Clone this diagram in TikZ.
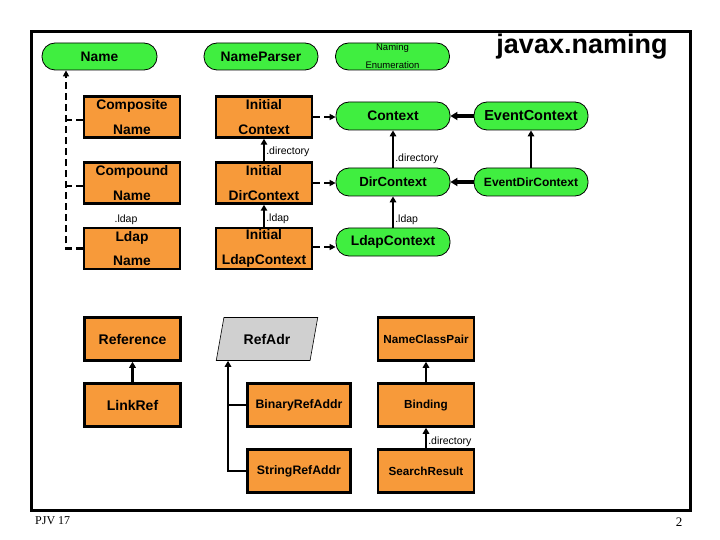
\documentclass[tikz,border=0pt]{standalone}
\usepackage{fontspec}
\setmainfont{Liberation Sans}
\newfontfamily\serifF{Liberation Serif}
\usetikzlibrary{shapes.geometric,arrows.meta}
\definecolor{gr}{RGB}{64,238,64}
\definecolor{orng}{RGB}{247,154,58}
\definecolor{gry}{RGB}{208,208,208}
\begin{document}
\begin{tikzpicture}[x=1pt,y=-1pt,
 iface/.style={draw=black, line width=0.8pt, fill=gr, rounded corners=13pt, minimum width=114pt, minimum height=28pt, inner sep=0pt, align=center, font=\bfseries\fontsize{13.8}{15}\selectfont},
 cls/.style={draw=black, line width=2.5pt, fill=orng, minimum width=96pt, minimum height=41pt, inner sep=0pt, align=center, font=\bfseries\fontsize{13.8}{24.5}\selectfont},
 cls2/.style={cls, minimum height=43pt, font=\bfseries\fontsize{11.7}{14}\selectfont},
 dsh/.style={line width=2.4pt, dash pattern=on 7pt off 4pt},
 tipd/.style={-{Triangle[length=6pt,width=6pt]}},
 sarr/.style={line width=2.6pt, -{Triangle[length=6pt,width=6.5pt]}},
 tarr/.style={line width=3.4pt, -{Triangle[length=7pt,width=8pt]}},
 lbl/.style={font=\fontsize{10.5}{12}\selectfont, inner sep=1pt}
]
\fill[white] (0,0) rectangle (720,540);
\useasboundingbox (0,0) rectangle (720,540);
\draw[line width=3pt] (31,32) rectangle (690,510);

% title
\node[font=\bfseries\fontsize{27}{30}\selectfont, inner sep=0pt] (title) at (582,47) {javax.naming};

% interfaces (green)
\node[iface, minimum width=115pt, minimum height=27pt] (Name) at (99.5,56.5) {Name};
\node[iface, minimum height=27pt] (NameParser) at (261,56.5) {NameParser};
\node[iface, minimum height=27pt, font=\fontsize{9.5}{18}\selectfont] (NamingEnum) at (392.5,56.5) {Naming\\Enumeration};
\node[iface] (Context) at (393,116) {Context};
\node[iface, font=\bfseries\fontsize{14.5}{16}\selectfont] (EventContext) at (531,116) {EventContext};
\node[iface, font=\bfseries\fontsize{13.2}{15}\selectfont] (DirContext) at (393,182) {DirContext};
\node[iface, font=\bfseries\fontsize{12}{14}\selectfont] (EventDirContext) at (531,182) {EventDirContext};
\node[iface] (LdapContext) at (393,242) {LdapContext};

% classes (orange)
\node[cls] (CompositeName) at (132,117) {Composite\\Name};
\node[cls] (InitialContext) at (264,117) {Initial\\Context};
\node[cls] (CompoundName) at (132,183) {Compound\\Name};
\node[cls] (InitialDirContext) at (264,183) {Initial\\DirContext};
\node[cls] (LdapName) at (132,248.5) {Ldap\\Name};
\node[cls] (InitialLdapContext) at (264,248.5) {Initial\\LdapContext};

\node[cls2, font=\bfseries\fontsize{14}{16}\selectfont] (Reference) at (132.5,339) {Reference};
\node[cls2, font=\bfseries\fontsize{14}{16}\selectfont] (LinkRef) at (132.5,405) {LinkRef};
\node[draw=black, line width=0.6pt, fill=gry, trapezium, trapezium left angle=68, trapezium right angle=112, trapezium stretches=true, minimum width=102pt, minimum height=43pt, inner sep=0pt, font=\bfseries\fontsize{14}{16}\selectfont] (RefAdr) at (267,339) {RefAdr};
\node[cls2, minimum width=103pt, font=\bfseries\fontsize{12.3}{14}\selectfont] (BinaryRefAddr) at (299,405) {BinaryRefAddr};
\node[cls2, minimum width=103pt, font=\bfseries\fontsize{12.3}{14}\selectfont] (StringRefAddr) at (299,471) {StringRefAddr};
\node[cls2] (NameClassPair) at (426,339) {NameClassPair};
\node[cls2] (Binding) at (426,405) {Binding};
\node[cls2] (SearchResult) at (426,471) {SearchResult};

% dashed implementation links
\coordinate (vx) at (66,0);
\draw[dsh, tipd] (LdapName.west) -| (Name.south -| vx);
\draw[dsh] ([yshift=-3pt]CompositeName.west) -- ([yshift=-3pt]CompositeName.west -| vx);
\draw[dsh] ([yshift=-3pt]CompoundName.west) -- ([yshift=-3pt]CompoundName.west -| vx);
\draw[dsh, tipd] (InitialContext.east) -- (InitialContext.east -| Context.west);
\draw[dsh, tipd] (InitialDirContext.east) -- (InitialDirContext.east -| DirContext.west);
\draw[dsh, tipd] ([yshift=1.5pt]InitialLdapContext.east) -- ([yshift=1.5pt]InitialLdapContext.east -| LdapContext.west);

% solid inheritance
\draw[sarr] (InitialDirContext.north) -- node[lbl, right, pos=0.4] {.directory} (InitialContext.south);
\draw[sarr] (InitialLdapContext.north) -- node[lbl, right, pos=0.35] {.ldap} (InitialDirContext.south);
\node[lbl] (ldaplbl) at (126,220) {.ldap};
\draw[sarr] (DirContext.north) -- node[lbl, right, pos=0.25] {.directory} (Context.south);
\draw[sarr] (LdapContext.north) -- node[lbl, right, pos=0.25] {.ldap} (DirContext.south);
\draw[tarr] (EventContext.west) -- (Context.east);
\draw[tarr] (EventDirContext.west) -- (DirContext.east);
\draw[sarr] (EventDirContext.north) -- (EventContext.south);

\draw[sarr] (LinkRef.north) -- (Reference.south);
\coordinate (rx) at (228,0);
\draw[sarr] (StringRefAddr.west) -| (RefAdr.south -| rx);
\draw[line width=2.6pt] (BinaryRefAddr.west) -- (BinaryRefAddr.west -| rx);
\draw[sarr] (Binding.north) -- (NameClassPair.south);
\draw[sarr] (SearchResult.north) -- node[lbl, right, pos=0.3] {.directory} (Binding.south);

% footer
\node[font=\serifF\fontsize{12}{14}\selectfont, anchor=west, inner sep=0pt] (pjv) at (35,521) {PJV 17};
\node[font=\serifF\fontsize{13}{14}\selectfont, inner sep=0pt] (pnum) at (679,522) {2};
\end{tikzpicture}
\end{document}
